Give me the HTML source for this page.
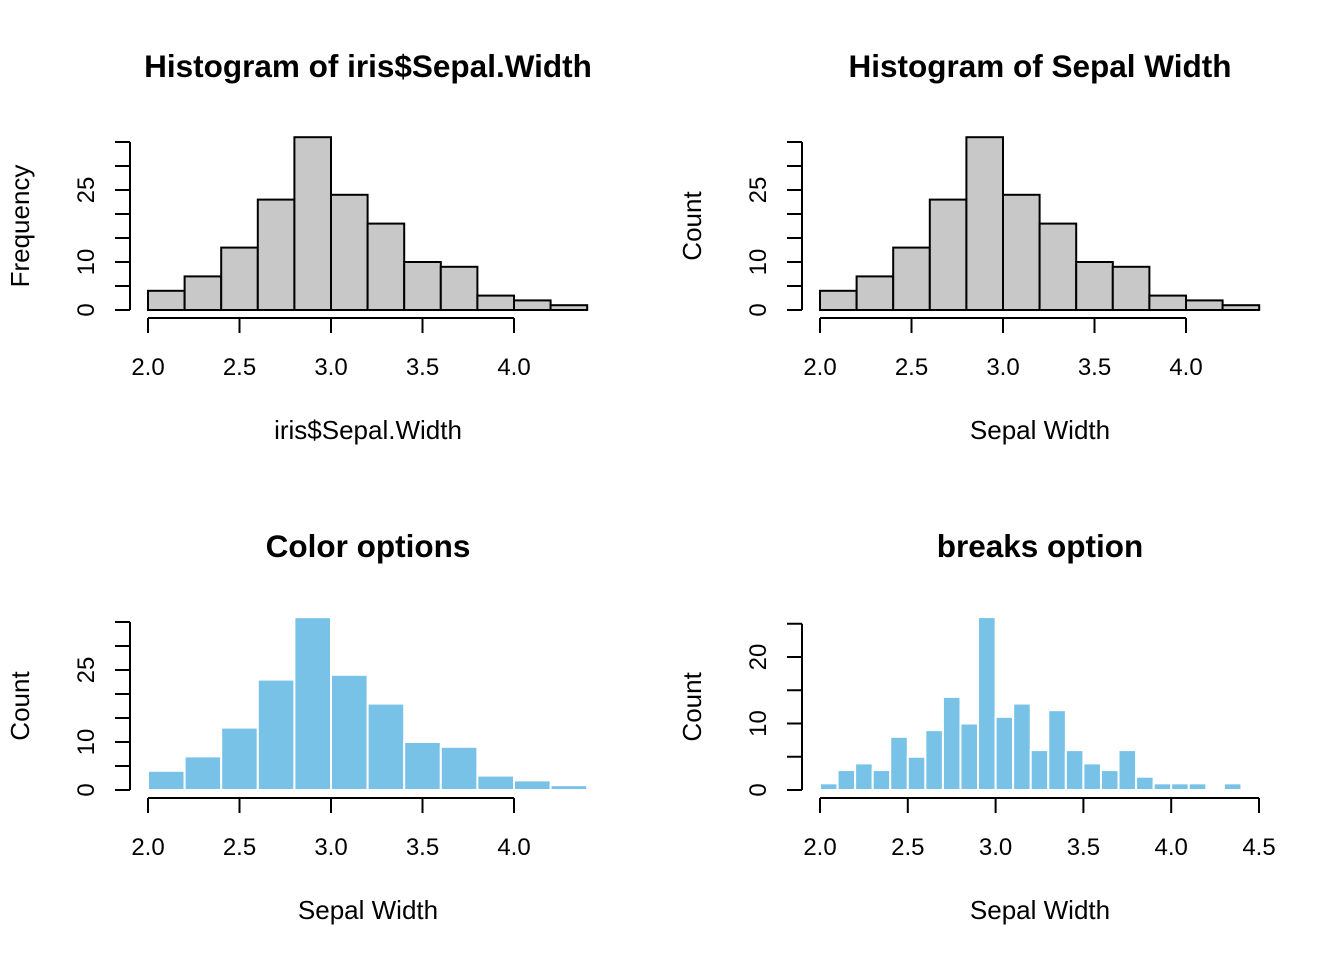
<!DOCTYPE html>
<html><head><meta charset="utf-8"><style>body{margin:0;background:#fff}svg{display:block}text{font-family:"Liberation Sans",Arial,sans-serif;fill:#000}</style></head>
<body>
<svg id="s" width="1344" height="960" xmlns="http://www.w3.org/2000/svg"></svg>
<script>
const breaks12 = [2.0,2.2,2.4,2.6,2.8,3.0,3.2,3.4,3.6,3.8,4.0,4.2,4.4];
const counts12 = [4,7,13,23,36,24,18,10,9,3,2,1];
const breaks25 = [2.0,2.1,2.2,2.3,2.4,2.5,2.6,2.7,2.8,2.9,3.0,3.1,3.2,3.3,3.4,3.5,3.6,3.7,3.8,3.9,4.0,4.1,4.2,4.3,4.4];
const counts25 = [1,3,4,3,8,5,9,14,10,26,11,13,6,12,6,4,3,6,2,1,1,1,0,1];
const xTicksA = [2.0,2.5,3.0,3.5,4.0];
const xTicksB = [2.0,2.5,3.0,3.5,4.0,4.5];
const yTicksA = [0,5,10,15,20,25,30,35];
const yLabelsA = [0,10,25];
const yTicksB = [0,5,10,15,20,25];
const yLabelsB = [0,10,20];
const svg=document.getElementById('s');const NS='http://www.w3.org/2000/svg';
function el(t,a,txt){const e=document.createElementNS(NS,t);for(const k in a)e.setAttribute(k,a[k]);if(txt!=null)e.textContent=txt;svg.appendChild(e);return e;}
function panel(o){
 const xs=v=>o.x0+(v-2.0)*o.xpu, ys=v=>o.y0-v*o.ypu;
 const t=el('text',{x:o.cx,y:o.ty,'text-anchor':'middle','font-size':'31.5','font-weight':'bold'},o.title);
 
 for(let i=0;i<o.counts.length;i++){if(o.counts[i]===0)continue;
  const r=el('rect',{x:xs(o.breaks[i]),y:ys(o.counts[i]),width:xs(o.breaks[i+1])-xs(o.breaks[i]),height:o.counts[i]*o.ypu,fill:o.fill,stroke:o.stroke,'stroke-width':o.sw});
  }
 const ax=o.x0-18, by=o.y0+8;
 const ya=el('line',{x1:ax,x2:ax,y1:ys(o.yt[0]),y2:ys(o.yt[o.yt.length-1]),stroke:'#000','stroke-width':2});
 
 o.yt.forEach(v=>el('line',{x1:ax-15,x2:ax,y1:ys(v),y2:ys(v),stroke:'#000','stroke-width':2}));
 o.yl.forEach(v=>{const tt=el('text',{x:0,y:0,'text-anchor':'middle','font-size':'24',transform:`translate(${ax-36},${ys(v)}) rotate(-90)`},String(v));
  });
 const xa=el('line',{x1:xs(o.xt[0]),x2:xs(o.xt[o.xt.length-1]),y1:by,y2:by,stroke:'#000','stroke-width':2});
 
 o.xt.forEach(v=>{el('line',{x1:xs(v),x2:xs(v),y1:by,y2:by+15,stroke:'#000','stroke-width':2});
  const tt=el('text',{x:xs(v),y:by+57,'text-anchor':'middle','font-size':'24'},v.toFixed(1));
  });
 const xl=el('text',{x:o.cx,y:o.y0+129,'text-anchor':'middle','font-size':'26'},o.xlab);
 
 const yl=el('text',{x:0,y:0,'text-anchor':'middle','font-size':'26',transform:`translate(${ax-101},${(ys(o.yt[0])+ys(o.yt[o.yt.length-1]))/2}) rotate(-90)`},o.ylab);
 
}
const A={breaks:breaks12,counts:counts12,xt:xTicksA,yt:yTicksA,yl:yLabelsA,xpu:183,ypu:4.8};
panel({...A,x0:148,y0:310,cx:368,ty:77,title:'Histogram of iris$Sepal.Width',xlab:'iris$Sepal.Width',ylab:'Frequency',fill:'#c8c8c8',stroke:'#000',sw:2});
panel({...A,x0:820,y0:310,cx:1040,ty:77,title:'Histogram of Sepal Width',xlab:'Sepal Width',ylab:'Count',fill:'#c8c8c8',stroke:'#000',sw:2});
panel({...A,x0:148,y0:790,cx:368,ty:557,title:'Color options',xlab:'Sepal Width',ylab:'Count',fill:'#77c2e6',stroke:'#fff',sw:2});
panel({breaks:breaks25,counts:counts25,xt:xTicksB,yt:yTicksB,yl:yLabelsB,xpu:175.6,ypu:6.65,x0:820,y0:790,cx:1040,ty:557,title:'breaks option',xlab:'Sepal Width',ylab:'Count',fill:'#77c2e6',stroke:'#fff',sw:2});
</script>
</body></html>
